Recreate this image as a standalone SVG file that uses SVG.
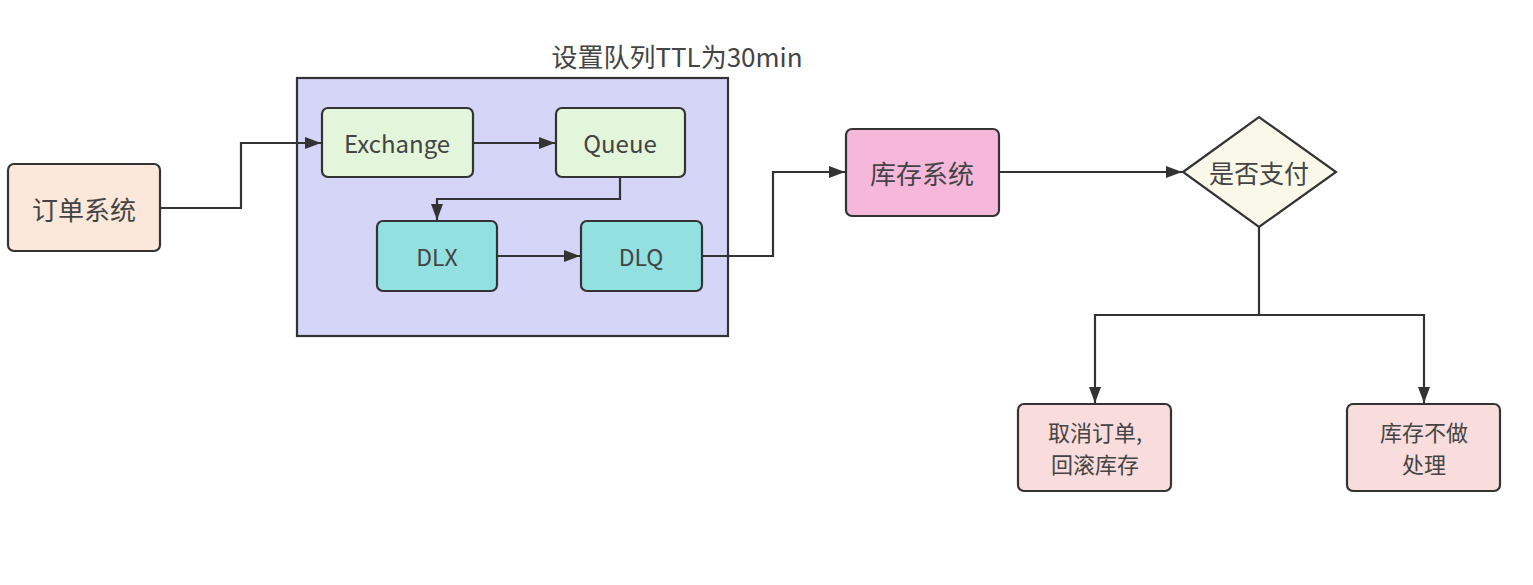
<svg xmlns="http://www.w3.org/2000/svg" width="1533" height="585" viewBox="0 0 1533 585">
<style>
.n{stroke:#333;stroke-width:2.2}
.t{font-family:"Noto Sans CJK SC","Noto Sans",sans-serif;fill:#444;text-anchor:middle;dominant-baseline:central}
.c{fill:none;stroke:#333;stroke-width:2.2;marker-end:url(#a)}
</style>
<defs>
<marker id="a" viewBox="0 0 16 12" refX="16" refY="6" markerWidth="16" markerHeight="12" orient="auto" markerUnits="userSpaceOnUse">
<path d="M0,0 L16,6 L0,12 z" fill="#333"/>
</marker>
</defs>
<rect width="1533" height="585" fill="#fff"/>
<g id="container">
<rect x="297" y="78" width="431" height="258" fill="#d4d5f7" class="n"/>
<text x="677" y="55" class="t" font-size="26">设置队列TTL为30min</text>
</g>
<g id="order">
<rect x="8" y="164" width="152" height="87" rx="6" fill="#fbe8da" class="n"/>
<text x="84" y="208" class="t" font-size="26">订单系统</text>
</g>
<g id="exchange">
<rect x="322" y="108" width="151" height="69" rx="6" fill="#e3f5da" class="n"/>
<text x="397" y="142" class="t" font-size="24">Exchange</text>
</g>
<g id="queue">
<rect x="556" y="108" width="129" height="69" rx="6" fill="#e3f5da" class="n"/>
<text x="620" y="142" class="t" font-size="24">Queue</text>
</g>
<g id="dlx">
<rect x="377" y="221" width="120" height="70" rx="6" fill="#93e0e0" class="n"/>
<text x="437" y="256" class="t" font-size="23">DLX</text>
</g>
<g id="dlq">
<rect x="581" y="221" width="121" height="70" rx="6" fill="#93e0e0" class="n"/>
<text x="641" y="256" class="t" font-size="23">DLQ</text>
</g>
<g id="stock">
<rect x="846" y="129" width="153" height="87" rx="6" fill="#f5b8da" class="n"/>
<text x="922" y="172" class="t" font-size="26">库存系统</text>
</g>
<g id="decision">
<polygon points="1183,172 1259,117 1336,172 1259,227" fill="#faf8e8" class="n"/>
<text x="1259" y="172" class="t" font-size="25">是否支付</text>
</g>
<g id="cancel">
<rect x="1018" y="404" width="153" height="87" rx="6" fill="#f9dcdc" class="n"/>
<text x="1095" y="431" class="t" font-size="22">取消订单,</text>
<text x="1095" y="463" class="t" font-size="22">回滚库存</text>
</g>
<g id="noop">
<rect x="1347" y="404" width="153" height="87" rx="6" fill="#f9dcdc" class="n"/>
<text x="1424" y="431" class="t" font-size="22">库存不做</text>
<text x="1424" y="463" class="t" font-size="22">处理</text>
</g>
<g id="connectors">
<path class="c" d="M160,208 H241 V143 H321"/>
<path class="c" d="M473,143 H555"/>
<path class="c" d="M620,177 V199 H437 V220"/>
<path class="c" d="M497,256 H580"/>
<path class="c" d="M702,256 H773 V172 H845"/>
<path class="c" d="M999,172 H1182"/>
<path class="c" d="M1259,227 V315 H1095 V403"/>
<path class="c" d="M1259,315 H1424 V403"/>
</g>
</svg>
